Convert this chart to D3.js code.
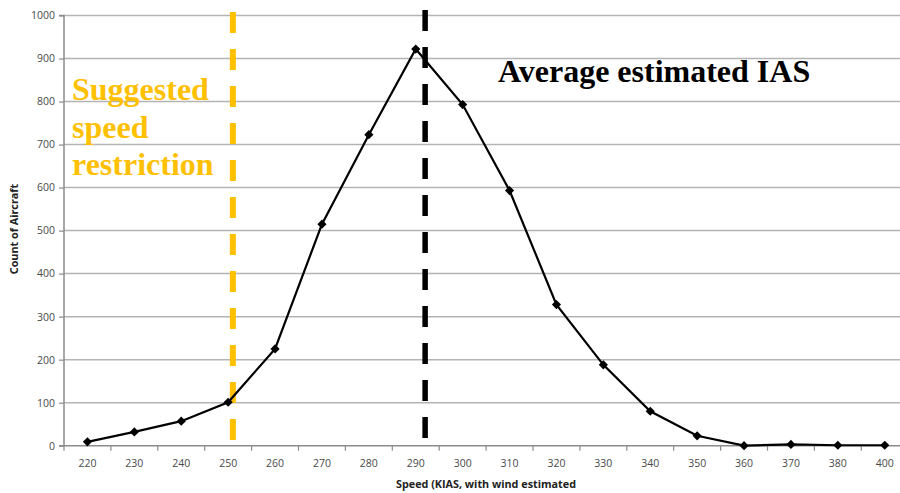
<!DOCTYPE html>
<html><head><meta charset="utf-8">
<script src="https://cdn.jsdelivr.net/npm/d3@7"></script>
<style>body{margin:0;background:#fff}svg{display:block}</style>
</head><body>
<svg id="c" width="900" height="493"></svg>
<script>
const categories = [220,230,240,250,260,270,280,290,300,310,320,330,340,350,360,370,380,400];
const counts = [9,32,57,101,225,515,723,922,793,593,328,188,80,23,0,3,1,1];
const yTicks = [0,100,200,300,400,500,600,700,800,900,1000];
const suggestedSpeed = 251;
const averageIAS = 292;
const suggestedLabel = ["Suggested","speed","restriction"];
const averageLabel = "Average estimated IAS";
const xTitle = "Speed (KIAS, with wind estimated";
const yTitle = "Count of Aircraft";

(function(){
const svg = d3.select("#c");
const pLeft = 64, bandW = 46.9, pTop = 15.5, pBottom = 445.7;
const x = d3.scaleLinear().domain([-0.5, categories.length - 0.5]).range([pLeft, pLeft + bandW * categories.length]);
const y = d3.scaleLinear().domain([0, 1000]).range([pBottom, pTop]);
const speedIdx = s => (s - categories[0]) / 10;

// gridlines
svg.append("g").selectAll("line").data(yTicks.filter(d => d > 0)).join("line")
  .attr("x1", pLeft).attr("x2", 900).attr("y1", d => y(d)).attr("y2", d => y(d))
  .attr("stroke", "#b4b4b4").attr("stroke-width", 1.5);

// y axis
const yAxis = d3.axisLeft(y).tickValues(yTicks).tickFormat(d3.format("d")).tickSize(5).tickPadding(4);
const gy = svg.append("g").attr("transform", `translate(${pLeft},0)`).call(yAxis);
gy.select(".domain").attr("stroke", "#8c8c8c").attr("stroke-width", 1.5).attr("d", `M-5,${pBottom}H0V${pTop}H-5`);
gy.selectAll(".tick line").attr("stroke", "#8c8c8c").attr("stroke-width", 1.2);
gy.selectAll(".tick text").attr("fill", "#4a4a4a").style("font-family", "'Open Sans', sans-serif").style("font-size", "10.5px");

// x axis
const gx = svg.append("g").attr("transform", `translate(0,${pBottom})`);
gx.append("line").attr("x1", pLeft).attr("x2", 900).attr("y1", 0).attr("y2", 0).attr("stroke", "#8c8c8c").attr("stroke-width", 1.5);
gx.selectAll("line.t").data(d3.range(categories.length + 1)).join("line").attr("class", "t")
  .attr("x1", i => x(i - 0.5)).attr("x2", i => x(i - 0.5)).attr("y1", 0).attr("y2", 5)
  .attr("stroke", "#8c8c8c").attr("stroke-width", 1.2);
gx.selectAll("text").data(categories).join("text")
  .attr("x", (d, i) => x(i)).attr("y", 21).attr("text-anchor", "middle")
  .attr("fill", "#4a4a4a").style("font-family", "'Open Sans', sans-serif").style("font-size", "10.5px")
  .text(d => d);

// axis titles
svg.append("text").attr("x", 486).attr("y", 488).attr("text-anchor", "middle")
  .style("font-family", "'Open Sans', sans-serif").style("font-size", "10.8px").style("font-weight", "bold")
  .attr("fill", "#222").text(xTitle);
svg.append("text").attr("transform", "translate(18,229) rotate(-90)").attr("text-anchor", "middle")
  .style("font-family", "'Open Sans', sans-serif").style("font-size", "10.8px").style("font-weight", "bold")
  .attr("fill", "#222").text(yTitle);

// vertical reference lines
svg.append("line").attr("x1", x(speedIdx(suggestedSpeed))).attr("x2", x(speedIdx(suggestedSpeed)))
  .attr("y1", 12).attr("y2", 443).attr("stroke", "#FFC000").attr("stroke-width", 6).attr("stroke-dasharray", "21,16");
svg.append("line").attr("x1", x(speedIdx(averageIAS))).attr("x2", x(speedIdx(averageIAS)))
  .attr("y1", 10).attr("y2", 441).attr("stroke", "#000").attr("stroke-width", 5.5).attr("stroke-dasharray", "21,16");

// series line
const line = d3.line().x((d, i) => x(i)).y(d => y(d));
svg.append("path").datum(counts).attr("d", line).attr("fill", "none").attr("stroke", "#000").attr("stroke-width", 2.2);
svg.append("g").selectAll("path").data(counts).join("path")
  .attr("transform", (d, i) => `translate(${x(i)},${y(d)}) rotate(45)`)
  .attr("d", d3.symbol(d3.symbolSquare, 42)).attr("fill", "#000");

// annotations
const st = svg.append("text").style("font-family", "'Liberation Serif', 'Times New Roman', serif")
  .style("font-size", "32px").style("font-weight", "bold").attr("fill", "#FFC000");
suggestedLabel.forEach((t, i) => st.append("tspan").attr("x", 72).attr("y", 100 + i * 37.5).text(t));
svg.append("text").attr("x", 498).attr("y", 82).style("font-family", "'Liberation Serif', 'Times New Roman', serif")
  .style("font-size", "32px").style("font-weight", "bold").attr("fill", "#000").text(averageLabel);
})();
</script>
</body></html>
